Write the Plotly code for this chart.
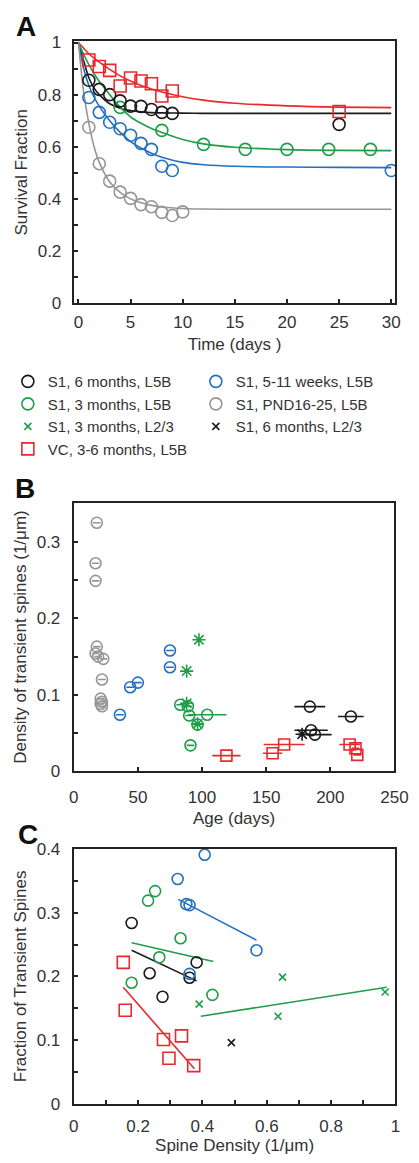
import plotly.graph_objects as go

W, H = 419, 1163
FONT = "Liberation Sans, Arial, sans-serif"
TXT = "#333333"
BLACK = "#1a1a1a"
GREEN = "#1f9e48"
BLUE = "#2270c0"
GRAY = "#969696"
RED = "#e8282c"

# ---------------- Panel A: survival fraction ----------------
a_days_black = [1, 2, 3, 4, 5, 6, 7, 8, 9, 25]
a_black = [0.855, 0.82, 0.80, 0.776, 0.756, 0.755, 0.743, 0.732, 0.728, 0.686]
a_days_red = [1, 2, 3, 4, 5, 6, 7, 8, 9, 25]
a_red = [0.933, 0.908, 0.893, 0.833, 0.864, 0.852, 0.842, 0.795, 0.814, 0.735]
a_days_green = [4, 8, 12, 16, 20, 24, 28]
a_green = [0.751, 0.663, 0.609, 0.590, 0.590, 0.590, 0.590]
a_days_blue = [1, 2, 3, 4, 5, 6, 7, 8, 9, 30]
a_blue = [0.789, 0.732, 0.694, 0.669, 0.644, 0.613, 0.590, 0.525, 0.509, 0.509]
a_days_gray = [1, 2, 3, 4, 5, 6, 7, 8, 9, 10]
a_gray = [0.675, 0.535, 0.468, 0.426, 0.402, 0.378, 0.370, 0.348, 0.336, 0.350]

# fitted curves
fit_t = [0, 0.5, 1, 1.5, 2, 3, 4, 5, 6, 7, 8, 10, 12, 15, 20, 25, 30]
fit_black = [1, 0.93, 0.865, 0.825, 0.80, 0.765, 0.748, 0.739, 0.734, 0.731, 0.73, 0.729, 0.728, 0.728, 0.728, 0.728, 0.728]
fit_red = [1, 0.978, 0.957, 0.94, 0.925, 0.897, 0.872, 0.852, 0.835, 0.822, 0.81, 0.792, 0.779, 0.767, 0.757, 0.752, 0.75]
fit_green = [1, 0.955, 0.915, 0.88, 0.85, 0.80, 0.752, 0.715, 0.69, 0.67, 0.655, 0.628, 0.611, 0.598, 0.589, 0.586, 0.585]
fit_blue = [1, 0.9, 0.835, 0.79, 0.755, 0.70, 0.655, 0.62, 0.595, 0.575, 0.56, 0.54, 0.531, 0.525, 0.522, 0.521, 0.52]
fit_gray = [1, 0.81, 0.69, 0.6, 0.54, 0.465, 0.425, 0.4, 0.385, 0.375, 0.369, 0.363, 0.361, 0.36, 0.36, 0.36, 0.36]

# ---------------- Panel B: density of transient spines vs age ----------------
b_age_gray = [18, 17, 17, 18, 17, 19, 23, 22, 21, 22, 21, 22]
b_val_gray = [0.325, 0.272, 0.249, 0.163, 0.154, 0.150, 0.147, 0.120, 0.095, 0.091, 0.088, 0.085]
b_err_gray = [3, 3, 3, 3, 3, 3, 3, 3, 3, 3, 3, 3]
b_age_blue = [36, 44, 50, 75, 75]
b_val_blue = [0.074, 0.110, 0.116, 0.158, 0.136]
b_err_blue = [3, 3, 3, 3, 3]
b_age_green = [83, 89, 90, 104, 96.5, 91]
b_val_green = [0.087, 0.085, 0.073, 0.074, 0.061, 0.034]
b_err_green = [3, 3, 3, 15, 3, 3]
b_age_green_l23 = [97.6, 88, 88, 96.5]
b_val_green_l23 = [0.172, 0.131, 0.089, 0.062]
b_age_black = [184, 216, 185, 188]
b_val_black = [0.0846, 0.0717, 0.0537, 0.048]
b_err_black = [12, 10, 13, 13]
b_age_black_l23 = [178]
b_val_black_l23 = [0.0485]
b_age_red = [119, 155, 164, 215, 219.6, 221]
b_val_red = [0.0206, 0.0236, 0.035, 0.035, 0.030, 0.0215]
b_err_red = [11, 7.5, 16, 8, 3, 3]

# ---------------- Panel C: fraction of transient spines vs spine density ----------------
c_x_black = [0.18, 0.236, 0.276, 0.382, 0.36]
c_y_black = [0.284, 0.205, 0.168, 0.222, 0.198]
c_fitx_black = [0.18, 0.382]
c_fity_black = [0.241, 0.193]
c_x_green = [0.231, 0.253, 0.332, 0.266, 0.18, 0.431]
c_y_green = [0.319, 0.334, 0.26, 0.230, 0.19, 0.171]
c_fitx_green = [0.18, 0.434]
c_fity_green = [0.253, 0.2235]
c_x_blue = [0.407, 0.323, 0.35, 0.36, 0.568, 0.36]
c_y_blue = [0.391, 0.353, 0.3135, 0.312, 0.241, 0.204]
c_fitx_blue = [0.325, 0.568]
c_fity_blue = [0.321, 0.257]
c_x_red = [0.154, 0.16, 0.279, 0.335, 0.296, 0.373]
c_y_red = [0.222, 0.147, 0.101, 0.1066, 0.0715, 0.060]
c_fitx_red = [0.154, 0.375]
c_fity_red = [0.183, 0.055]
c_x_green_l23 = [0.39, 0.649, 0.635, 0.968]
c_y_green_l23 = [0.1565, 0.199, 0.1375, 0.1756]
c_fitx_green_l23 = [0.395, 0.973]
c_fity_green_l23 = [0.1375, 0.183]
c_x_black_l23 = [0.49]
c_y_black_l23 = [0.096]

LBL = {
    "black": "S1, 6 months, L5B",
    "blue": "S1, 5-11 weeks, L5B",
    "green": "S1, 3 months, L5B",
    "gray": "S1, PND16-25, L5B",
    "green_l23": "S1, 3 months, L2/3",
    "black_l23": "S1, 6 months, L2/3",
    "red": "VC, 3-6 months, L5B",
}

fig = go.Figure()


def line(x, y, color, xa, ya, shape="linear"):
    fig.add_trace(go.Scatter(x=x, y=y, mode="lines", xaxis=xa, yaxis=ya,
                             line=dict(color=color, width=1.6, shape=shape, smoothing=0.8),
                             showlegend=False, hoverinfo="skip"))


def pts(x, y, color, symbol, size, xa, ya, name=None, rank=None, err=None, lw=1.6):
    kw = {}
    if err is not None:
        kw["error_x"] = dict(type="data", array=err, symmetric=True, color=color,
                             thickness=1.6, width=0)
    fig.add_trace(go.Scatter(x=x, y=y, mode="markers", xaxis=xa, yaxis=ya,
                             marker=dict(symbol=symbol, size=size, color=color,
                                         line=dict(width=lw, color=color)),
                             name=name if name else "", showlegend=name is not None,
                             legendrank=rank if rank else 1000, **kw))


# Panel A
for t_, f_, c_ in [(fit_t, fit_black, BLACK), (fit_t, fit_red, RED), (fit_t, fit_green, GREEN),
                   (fit_t, fit_blue, BLUE), (fit_t, fit_gray, GRAY)]:
    line(t_, f_, c_, "x", "y", shape="spline")
pts(a_days_gray, a_gray, GRAY, "circle-open", 12, "x", "y", LBL["gray"], 4)
pts(a_days_blue, a_blue, BLUE, "circle-open", 12, "x", "y", LBL["blue"], 2)
pts(a_days_green, a_green, GREEN, "circle-open", 12, "x", "y", LBL["green"], 3)
pts(a_days_black, a_black, BLACK, "circle-open", 12, "x", "y", LBL["black"], 1)
pts(a_days_red, a_red, RED, "square-open", 12, "x", "y", LBL["red"], 7)

# Panel B
pts(b_age_gray, b_val_gray, GRAY, "circle-open", 11, "x2", "y2", err=b_err_gray)
pts(b_age_blue, b_val_blue, BLUE, "circle-open", 11, "x2", "y2", err=b_err_blue)
pts(b_age_green, b_val_green, GREEN, "circle-open", 11, "x2", "y2", err=b_err_green)
pts(b_age_green_l23, b_val_green_l23, GREEN, "asterisk-open", 11, "x2", "y2")
pts(b_age_red, b_val_red, RED, "square-open", 11, "x2", "y2", err=b_err_red)
pts(b_age_black, b_val_black, BLACK, "circle-open", 11, "x2", "y2", err=b_err_black)
pts(b_age_black_l23, b_val_black_l23, BLACK, "asterisk-open", 11, "x2", "y2")

# Panel C
line(c_fitx_black, c_fity_black, BLACK, "x3", "y3")
line(c_fitx_green, c_fity_green, GREEN, "x3", "y3")
line(c_fitx_blue, c_fity_blue, BLUE, "x3", "y3")
line(c_fitx_red, c_fity_red, RED, "x3", "y3")
line(c_fitx_green_l23, c_fity_green_l23, GREEN, "x3", "y3")
pts(c_x_black, c_y_black, BLACK, "circle-open", 11, "x3", "y3")
pts(c_x_green, c_y_green, GREEN, "circle-open", 11, "x3", "y3")
pts(c_x_blue, c_y_blue, BLUE, "circle-open", 11, "x3", "y3")
pts(c_x_red, c_y_red, RED, "square-open", 12, "x3", "y3")
pts(c_x_green_l23, c_y_green_l23, GREEN, "x-thin-open", 7, "x3", "y3", LBL["green_l23"], 5)
pts(c_x_black_l23, c_y_black_l23, BLACK, "x-thin-open", 7, "x3", "y3", LBL["black_l23"], 6)


def px_x(a, b):
    return [a / W, b / W]


def px_y(top, bottom):
    return [1 - bottom / H, 1 - top / H]


TF = 17
TFONT = dict(family=FONT, size=TF, color=TXT)
axis_common = dict(showline=True, linewidth=2, linecolor="#222222", mirror=True,
                   ticks="inside", ticklen=4, tickwidth=1.5, tickcolor="#222222",
                   showgrid=False, zeroline=False, tickfont=TFONT)
minor = dict(ticks="inside", ticklen=4, tickcolor="#222222")

fig.update_layout(
    width=W, height=H, margin=dict(l=0, r=0, t=0, b=0),
    paper_bgcolor="white", plot_bgcolor="white",
    font=dict(family=FONT, size=TF, color=TXT),
    xaxis=dict(axis_common, domain=px_x(72, 409), range=[-0.45, 30.4], anchor="y",
               tickvals=[0, 5, 10, 15, 20, 25, 30], ticklabelstandoff=2,
               title=dict(text="Time (days )", standoff=8, font=TFONT)),
    yaxis=dict(axis_common, domain=px_y(33, 299), range=[0, 1.004], anchor="x",
               dtick=0.2, minor=dict(minor, dtick=0.1),
               ticklabelstandoff=7, title=dict(text="Survival Fraction", standoff=6, font=TFONT)),
    xaxis2=dict(axis_common, domain=px_x(72, 408), range=[0, 250], anchor="y2",
                dtick=50, ticklabelstandoff=9,
                title=dict(text="Age (days)", standoff=6, font=TFONT)),
    yaxis2=dict(axis_common, domain=px_y(502, 775), range=[0, 0.351], anchor="x2",
                dtick=0.1, minor=dict(minor, dtick=0.05),
                ticklabelstandoff=8,
                title=dict(text="Density of transient spines (1/μm)", standoff=6, font=TFONT)),
    xaxis3=dict(axis_common, domain=px_x(72, 409), range=[0, 1], anchor="y3",
                dtick=0.2, minor=dict(minor, dtick=0.1),
                ticklabelstandoff=6, title=dict(text="Spine Density (1/μm)", standoff=4, font=TFONT)),
    yaxis3=dict(axis_common, domain=px_y(854, 1113), range=[0, 0.4], anchor="x3",
                dtick=0.1, minor=dict(minor, dtick=0.05),
                ticklabelstandoff=8,
                title=dict(text="Fraction of Transient Spines", standoff=6, font=TFONT)),
    legend=dict(orientation="h", x=3 / W, y=1 - 362 / H, xanchor="left", yanchor="top",
                entrywidth=143, entrywidthmode="pixels", itemsizing="trace",
                traceorder="normal", bgcolor="rgba(0,0,0,0)",
                font=dict(family=FONT, size=15, color=TXT)),
    annotations=[
        dict(text="<b>A</b>", x=22 / W, y=1 - 18 / H, xref="paper", yref="paper",
             xanchor="center", yanchor="middle",
             showarrow=False, font=dict(family=FONT, size=28, color="#111111")),
        dict(text="<b>B</b>", x=21 / W, y=1 - 487 / H, xref="paper", yref="paper",
             xanchor="center", yanchor="middle",
             showarrow=False, font=dict(family=FONT, size=28, color="#111111")),
        dict(text="<b>C</b>", x=24 / W, y=1 - 839 / H, xref="paper", yref="paper",
             xanchor="center", yanchor="middle",
             showarrow=False, font=dict(family=FONT, size=28, color="#111111")),
    ],
)

fig.write_html("out.html", config={"displayModeBar": False},
               post_script="document.body.style.margin='0';document.body.style.overflow='hidden';")
